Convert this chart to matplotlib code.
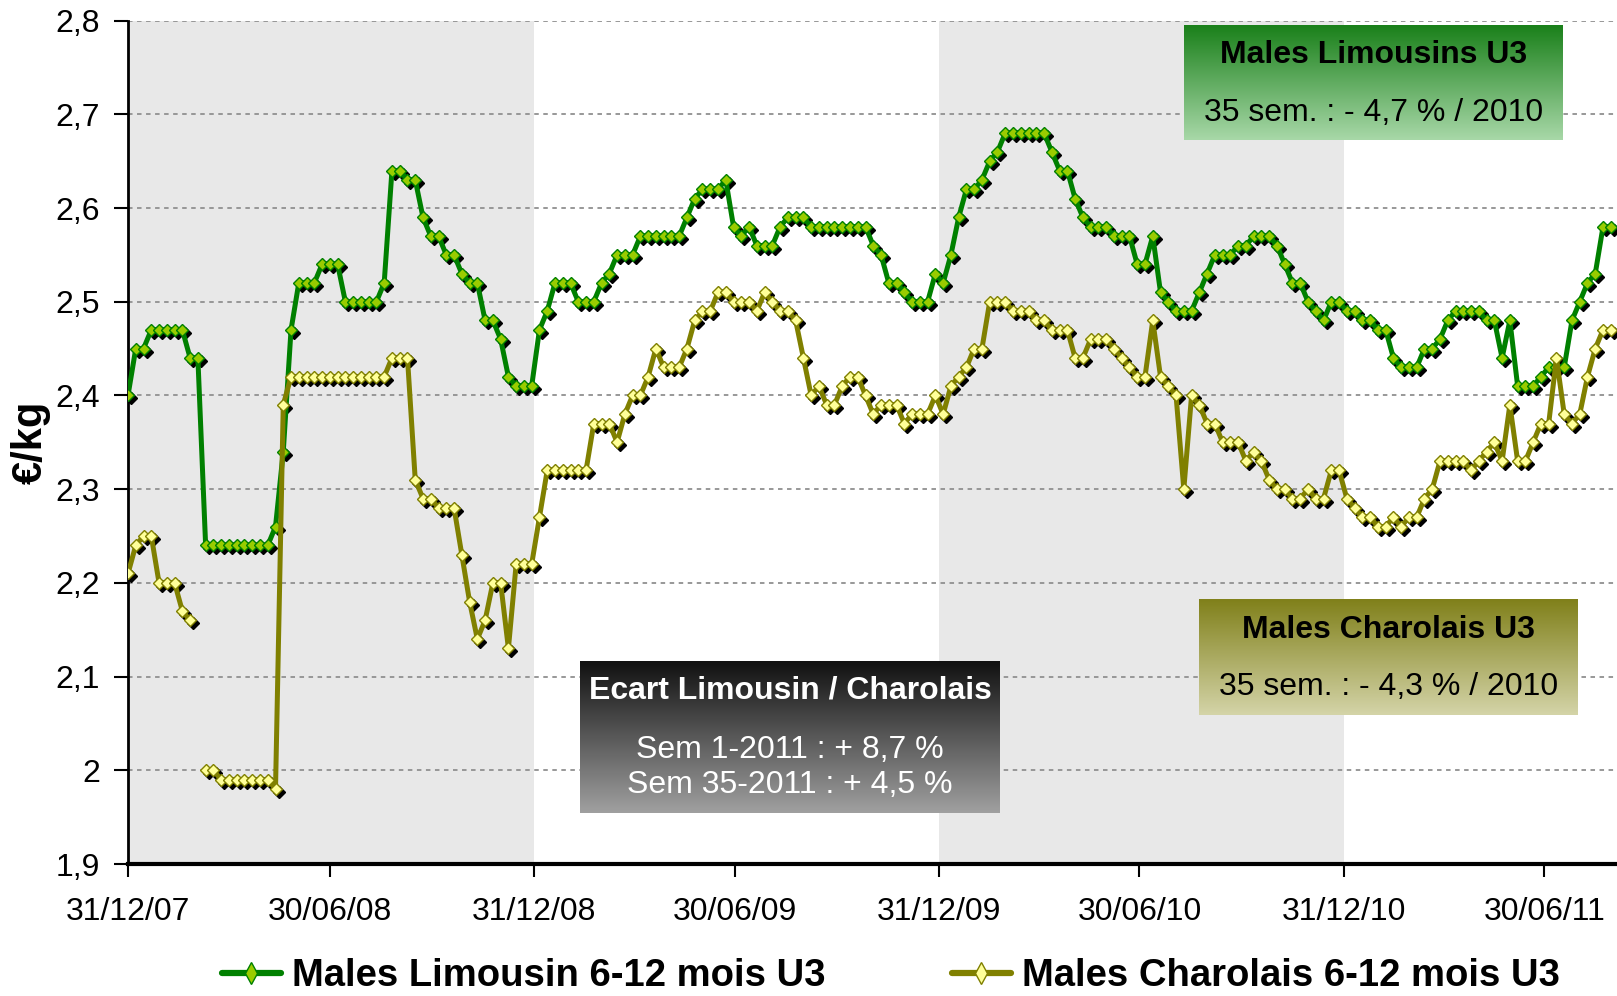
import numpy as np
import pandas as pd
import matplotlib
matplotlib.use("Agg")
import matplotlib.pyplot as plt
from matplotlib.colors import LinearSegmentedColormap
from matplotlib.lines import Line2D
from matplotlib.transforms import offset_copy

plt.rcParams['font.family'] = ['Liberation Sans', 'DejaVu Sans']

# weekly prices, EUR/kg, week 1 2008 -> week 35 2011
weeks = pd.date_range("2007-12-31", periods=192, freq="7D")

limousin = [
    2.40, 2.45, 2.45, 2.47, 2.47, 2.47, 2.47, 2.47, 2.44, 2.44,
    2.24, 2.24, 2.24, 2.24, 2.24, 2.24, 2.24, 2.24, 2.24, 2.26,
    2.34, 2.47, 2.52, 2.52, 2.52, 2.54, 2.54, 2.54, 2.50, 2.50,
    2.50, 2.50, 2.50, 2.52, 2.64, 2.64, 2.63, 2.63, 2.59, 2.57,
    2.57, 2.55, 2.55, 2.53, 2.52, 2.52, 2.48, 2.48, 2.46, 2.42,
    2.41, 2.41, 2.41, 2.47, 2.49, 2.52, 2.52, 2.52, 2.50, 2.50,
    2.50, 2.52, 2.53, 2.55, 2.55, 2.55, 2.57, 2.57, 2.57, 2.57,
    2.57, 2.57, 2.59, 2.61, 2.62, 2.62, 2.62, 2.63, 2.58, 2.57,
    2.58, 2.56, 2.56, 2.56, 2.58, 2.59, 2.59, 2.59, 2.58, 2.58,
    2.58, 2.58, 2.58, 2.58, 2.58, 2.58, 2.56, 2.55, 2.52, 2.52,
    2.51, 2.50, 2.50, 2.50, 2.53, 2.52, 2.55, 2.59, 2.62, 2.62,
    2.63, 2.65, 2.66, 2.68, 2.68, 2.68, 2.68, 2.68, 2.68, 2.66,
    2.64, 2.64, 2.61, 2.59, 2.58, 2.58, 2.58, 2.57, 2.57, 2.57,
    2.54, 2.54, 2.57, 2.51, 2.50, 2.49, 2.49, 2.49, 2.51, 2.53,
    2.55, 2.55, 2.55, 2.56, 2.56, 2.57, 2.57, 2.57, 2.56, 2.54,
    2.52, 2.52, 2.50, 2.49, 2.48, 2.50, 2.50, 2.49, 2.49, 2.48,
    2.48, 2.47, 2.47, 2.44, 2.43, 2.43, 2.43, 2.45, 2.45, 2.46,
    2.48, 2.49, 2.49, 2.49, 2.49, 2.48, 2.48, 2.44, 2.48, 2.41,
    2.41, 2.41, 2.42, 2.43, 2.43, 2.43, 2.48, 2.50, 2.52, 2.53,
    2.58, 2.58,
]

charolais = [
    2.21, 2.24, 2.25, 2.25, 2.20, 2.20, 2.20, 2.17, 2.16, np.nan,
    2.00, 2.00, 1.99, 1.99, 1.99, 1.99, 1.99, 1.99, 1.99, 1.98,
    2.39, 2.42, 2.42, 2.42, 2.42, 2.42, 2.42, 2.42, 2.42, 2.42,
    2.42, 2.42, 2.42, 2.42, 2.44, 2.44, 2.44, 2.31, 2.29, 2.29,
    2.28, 2.28, 2.28, 2.23, 2.18, 2.14, 2.16, 2.20, 2.20, 2.13,
    2.22, 2.22, 2.22, 2.27, 2.32, 2.32, 2.32, 2.32, 2.32, 2.32,
    2.37, 2.37, 2.37, 2.35, 2.38, 2.40, 2.40, 2.42, 2.45, 2.43,
    2.43, 2.43, 2.45, 2.48, 2.49, 2.49, 2.51, 2.51, 2.50, 2.50,
    2.50, 2.49, 2.51, 2.50, 2.49, 2.49, 2.48, 2.44, 2.40, 2.41,
    2.39, 2.39, 2.41, 2.42, 2.42, 2.40, 2.38, 2.39, 2.39, 2.39,
    2.37, 2.38, 2.38, 2.38, 2.40, 2.38, 2.41, 2.42, 2.43, 2.45,
    2.45, 2.50, 2.50, 2.50, 2.49, 2.49, 2.49, 2.48, 2.48, 2.47,
    2.47, 2.47, 2.44, 2.44, 2.46, 2.46, 2.46, 2.45, 2.44, 2.43,
    2.42, 2.42, 2.48, 2.42, 2.41, 2.40, 2.30, 2.40, 2.39, 2.37,
    2.37, 2.35, 2.35, 2.35, 2.33, 2.34, 2.33, 2.31, 2.30, 2.30,
    2.29, 2.29, 2.30, 2.29, 2.29, 2.32, 2.32, 2.29, 2.28, 2.27,
    2.27, 2.26, 2.26, 2.27, 2.26, 2.27, 2.27, 2.29, 2.30, 2.33,
    2.33, 2.33, 2.33, 2.32, 2.33, 2.34, 2.35, 2.33, 2.39, 2.33,
    2.33, 2.35, 2.37, 2.37, 2.44, 2.38, 2.37, 2.38, 2.42, 2.45,
    2.47, 2.47,
]

series_names = ["Males Limousin 6-12 mois U3", "Males Charolais 6-12 mois U3"]
tick_dates = ["2007-12-31", "2008-06-30", "2008-12-31", "2009-06-30",
              "2009-12-31", "2010-06-30", "2010-12-31", "2011-06-30"]
tick_labels = ["31/12/07", "30/06/08", "31/12/08", "30/06/09",
               "31/12/09", "30/06/10", "31/12/10", "30/06/11"]
y_ticks = [1.9, 2.0, 2.1, 2.2, 2.3, 2.4, 2.5, 2.6, 2.7, 2.8]
y_labels = ["1,9", "2", "2,1", "2,2", "2,3", "2,4", "2,5", "2,6", "2,7", "2,8"]
shaded = [("2007-12-31", "2008-12-31"), ("2009-12-31", "2010-12-31")]

W, H = 1617, 996
fig = plt.figure(figsize=(W / 100, H / 100), dpi=100)
ax = fig.add_axes([128 / W, 1 - 864 / H, 1 - 128 / W, (864 - 20.6) / H])

for start, end in shaded:
    ax.axvspan(pd.Timestamp(start), pd.Timestamp(end), color="#e8e8e8", lw=0, zorder=0)

# black drop shadow under each marker
shadow = offset_copy(ax.transData, fig=fig, x=3, y=-3, units="dots")
styles = [("#008000", "#99cc00"), ("#808000", "#ffff99")]
for vals, (line_c, face_c) in zip([limousin, charolais], styles):
    vals = np.array(vals, dtype=float)
    ax.plot(weeks, vals, ls="none", marker="D", ms=5.8, color="black",
            transform=shadow, zorder=2)
    ax.plot(weeks, vals, color=line_c, lw=3.6, marker="D", ms=5.8,
            mfc=face_c, mec=line_c, mew=1, zorder=3)

ax.set_xlim(pd.Timestamp("2007-12-31"), pd.Timestamp("2007-12-31") + pd.Timedelta(days=1342.6))
ax.set_ylim(1.9, 2.8)
ax.set_xticks([pd.Timestamp(d) for d in tick_dates])
ax.set_xticklabels(tick_labels)
ax.set_yticks(y_ticks)
ax.set_yticklabels(y_labels)
ax.set_axisbelow("line")
ax.yaxis.grid(True, ls=(0, (2.5, 2.5)), color="#909090", lw=1.3)

for side in ["top", "right"]:
    ax.spines[side].set_visible(False)
ax.spines["left"].set_linewidth(2)
ax.spines["bottom"].set_linewidth(3)
ax.tick_params(axis="y", direction="out", length=10, width=1.5, pad=10, labelsize=23)
ax.tick_params(axis="x", direction="out", length=9, width=1.5, pad=15, labelsize=23)
ax.set_facecolor("white")

ax.set_ylabel("€/kg", fontsize=30, fontweight="bold")
ax.yaxis.set_label_coords(-0.052, 0.5)

handles = [Line2D([], [], color=c, lw=4.5, solid_capstyle="round", marker="d", ms=11,
                  mfc=f, mec=c, mew=1) for c, f in styles]
fig.legend(handles, series_names, loc="center", bbox_to_anchor=(891 / W, 1 - 976 / H),
           ncol=2, frameon=False, prop={"weight": "bold", "size": 27.5},
           handlelength=1.55, handletextpad=0.3, columnspacing=3.3)


def note_box(x0, y0, x1, y1, top_c, bottom_c, lines):
    bax = fig.add_axes([x0 / W, 1 - y1 / H, (x1 - x0) / W, (y1 - y0) / H])
    cmap = LinearSegmentedColormap.from_list("grad", [top_c, bottom_c])
    bax.imshow(np.linspace(0, 1, 256).reshape(-1, 1), cmap=cmap, aspect="auto",
               extent=(0, 1, 0, 1))
    bax.set_axis_off()
    for text, ypos, weight, color in lines:
        bax.text(0.5, ypos, text, ha="center", va="center", fontsize=23,
                 fontweight=weight, color=color)


note_box(1184, 25, 1563, 140, "#1a801a", "#a8d8a8",
         [("Males Limousins U3", 0.739, "bold", "black"),
          ("35 sem. : - 4,7 % / 2010", 0.235, "normal", "black")])
note_box(1199, 599, 1578, 715, "#80801a", "#d4d4a8",
         [("Males Charolais U3", 0.733, "bold", "black"),
          ("35 sem. : - 4,3 % / 2010", 0.241, "normal", "black")])
note_box(580, 661, 1000, 813, "#101010", "#a0a0a0",
         [("Ecart Limousin / Charolais", 0.809, "bold", "white"),
          ("Sem 1-2011 : + 8,7 %", 0.414, "normal", "white"),
          ("Sem 35-2011 : + 4,5 %", 0.185, "normal", "white")])

fig.savefig("out.png", dpi=100)
